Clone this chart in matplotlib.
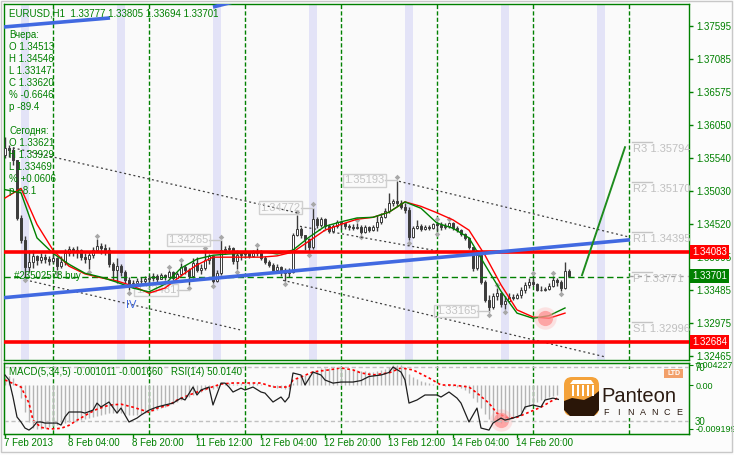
import matplotlib
matplotlib.use("Agg")
import matplotlib.pyplot as plt
import matplotlib.transforms as mtransforms
from matplotlib.patches import Rectangle, FancyBboxPatch, Polygon

plt.rcParams['font.family'] = ['Liberation Sans', 'DejaVu Sans']

W, H = 734, 455

# EURUSD H1, bars 7 Feb 2013 12:00 .. 15 Feb 2013 09:00 (index 0..141)
first_open = 1.3559
close = [
    1.3570, 1.3567, 1.3551, 1.3461, 1.3427, 1.3385, 1.3392, 1.3402, 1.3396, 1.3400,
    1.3397, 1.3394, 1.3399, 1.3386, 1.3392, 1.3406, 1.3413, 1.3408, 1.3411, 1.3400,
    1.3397, 1.3403, 1.3411, 1.3417, 1.3414, 1.3411, 1.3389, 1.3380, 1.3386, 1.3377,
    1.3365, 1.3355, 1.3360, 1.3363, 1.3363, 1.3366, 1.3368, 1.3371, 1.3366, 1.3372,
    1.3369, 1.3377, 1.3368, 1.3374, 1.3385, 1.3380, 1.3371, 1.3391, 1.3380, 1.3383,
    1.3396, 1.3402, 1.3363, 1.3375, 1.3411, 1.3413, 1.3414, 1.3394, 1.3403, 1.3405,
    1.3406, 1.3402, 1.3406, 1.3409, 1.3399, 1.3392, 1.3388, 1.3380, 1.3385, 1.3377,
    1.3375, 1.3377, 1.3434, 1.3444, 1.3434, 1.3428, 1.3416, 1.3459, 1.3450, 1.3459,
    1.3448, 1.3441, 1.3448, 1.3455, 1.3453, 1.3448, 1.3447, 1.3445, 1.3447, 1.3439,
    1.3447, 1.3442, 1.3447, 1.3455, 1.3462, 1.3472, 1.3484, 1.3487, 1.3484, 1.3478,
    1.3473, 1.3431, 1.3445, 1.3448, 1.3444, 1.3447, 1.3445, 1.3451, 1.3450, 1.3447,
    1.3448, 1.3453, 1.3445, 1.3442, 1.3436, 1.3430, 1.3416, 1.3383, 1.3403, 1.3361,
    1.3333, 1.3323, 1.3340, 1.3344, 1.3327, 1.3332, 1.3338, 1.3337, 1.3341, 1.3349,
    1.3357, 1.3362, 1.3358, 1.3349, 1.3349, 1.3351, 1.3355, 1.3365, 1.3361, 1.3352,
    1.3378, 1.3370]
high = [
    1.3587, 1.3574, 1.3571, 1.3551, 1.3466, 1.3433, 1.3411, 1.3411, 1.3403, 1.3406,
    1.3405, 1.3402, 1.3405, 1.3400, 1.3402, 1.3413, 1.3417, 1.3416, 1.3417, 1.3413,
    1.3406, 1.3409, 1.3416, 1.3428, 1.3422, 1.3420, 1.3416, 1.3392, 1.3399, 1.3389,
    1.3380, 1.3369, 1.3365, 1.3368, 1.3369, 1.3371, 1.3372, 1.3375, 1.3374, 1.3375,
    1.3374, 1.3380, 1.3378, 1.3377, 1.3391, 1.3388, 1.3383, 1.3399, 1.3400, 1.3389,
    1.3409, 1.3405, 1.3403, 1.3380, 1.3427, 1.3417, 1.3419, 1.3416, 1.3411, 1.3409,
    1.3411, 1.3408, 1.3411, 1.3414, 1.3411, 1.3402, 1.3396, 1.3391, 1.3389, 1.3386,
    1.3383, 1.3383, 1.3438, 1.3466, 1.3447, 1.3434, 1.3430, 1.3477, 1.3462, 1.3462,
    1.3461, 1.3451, 1.3451, 1.3458, 1.3458, 1.3453, 1.3451, 1.3451, 1.3453, 1.3450,
    1.3450, 1.3448, 1.3450, 1.3466, 1.3469, 1.3476, 1.3500, 1.3491, 1.3519, 1.3489,
    1.3484, 1.3478, 1.3448, 1.3458, 1.3451, 1.3450, 1.3450, 1.3453, 1.3455, 1.3454,
    1.3453, 1.3455, 1.3454, 1.3448, 1.3444, 1.3438, 1.3431, 1.3416, 1.3411, 1.3411,
    1.3365, 1.3341, 1.3344, 1.3352, 1.3346, 1.3340, 1.3344, 1.3343, 1.3344, 1.3354,
    1.3361, 1.3368, 1.3371, 1.3360, 1.3355, 1.3354, 1.3360, 1.3371, 1.3368, 1.3365,
    1.3393, 1.3381]
low = [
    1.3554, 1.3556, 1.3543, 1.3458, 1.3422, 1.3369, 1.3377, 1.3383, 1.3388, 1.3391,
    1.3391, 1.3388, 1.3391, 1.3380, 1.3383, 1.3388, 1.3402, 1.3402, 1.3399, 1.3396,
    1.3391, 1.3382, 1.3399, 1.3408, 1.3405, 1.3403, 1.3385, 1.3365, 1.3360, 1.3371,
    1.3360, 1.3349, 1.3352, 1.3355, 1.3357, 1.3358, 1.3360, 1.3363, 1.3361, 1.3366,
    1.3365, 1.3368, 1.3365, 1.3368, 1.3371, 1.3374, 1.3357, 1.3368, 1.3377, 1.3374,
    1.3380, 1.3389, 1.3360, 1.3361, 1.3372, 1.3405, 1.3406, 1.3389, 1.3382, 1.3396,
    1.3399, 1.3399, 1.3400, 1.3402, 1.3396, 1.3389, 1.3385, 1.3377, 1.3377, 1.3371,
    1.3363, 1.3369, 1.3375, 1.3433, 1.3430, 1.3411, 1.3408, 1.3413, 1.3445, 1.3447,
    1.3444, 1.3438, 1.3438, 1.3445, 1.3444, 1.3444, 1.3442, 1.3442, 1.3444, 1.3436,
    1.3438, 1.3439, 1.3441, 1.3441, 1.3451, 1.3461, 1.3469, 1.3479, 1.3479, 1.3475,
    1.3469, 1.3427, 1.3430, 1.3444, 1.3441, 1.3442, 1.3442, 1.3444, 1.3441, 1.3442,
    1.3444, 1.3445, 1.3442, 1.3439, 1.3433, 1.3427, 1.3413, 1.3378, 1.3380, 1.3358,
    1.3330, 1.3315, 1.3320, 1.3333, 1.3323, 1.3320, 1.3330, 1.3333, 1.3335, 1.3337,
    1.3344, 1.3352, 1.3355, 1.3347, 1.3347, 1.3347, 1.3349, 1.3354, 1.3355, 1.3347,
    1.3351, 1.3369]

# the two moving averages, read every 4 bars
ma_bars = list(range(0, 141, 4))
ma_red = [1.3492, 1.3507, 1.3451, 1.3411, 1.3386, 1.3374, 1.3368, 1.3363, 1.3355, 1.3344,
          1.3352, 1.3371, 1.3388, 1.3400, 1.3400, 1.3400, 1.3400, 1.3402, 1.3408, 1.3425,
          1.3442, 1.3451, 1.3459, 1.3462, 1.3470, 1.3486, 1.3479, 1.3469, 1.3458, 1.3442,
          1.3403, 1.3357, 1.3318, 1.3307, 1.3305, 1.3313]
ma_green = [1.3505, 1.3500, 1.3430, 1.3406, 1.3389, 1.3375, 1.3369, 1.3361, 1.3352, 1.3346,
            1.3358, 1.3383, 1.3397, 1.3403, 1.3405, 1.3406, 1.3409, 1.3405, 1.3411, 1.3431,
            1.3448, 1.3455, 1.3461, 1.3462, 1.3470, 1.3486, 1.3476, 1.3453, 1.3445, 1.3430,
            1.3388, 1.3347, 1.3313, 1.3305, 1.3309, 1.3321]

# MACD(5,34,5) main (histogram), one value per bar
macd_hist = [
    0.00168, 0.00189, 0.00147, 0.00021, -0.00273, -0.00567, -0.00777, -0.00903, -0.00920, -0.00915,
    -0.00903, -0.00882, -0.00861, -0.00840, -0.00819, -0.00798, -0.00777, -0.00756, -0.00735, -0.00735,
    -0.00714, -0.00693, -0.00672, -0.00651, -0.00630, -0.00609, -0.00588, -0.00588, -0.00588, -0.00588,
    -0.00609, -0.00630, -0.00630, -0.00630, -0.00609, -0.00588, -0.00567, -0.00546, -0.00525, -0.00483,
    -0.00462, -0.00420, -0.00399, -0.00357, -0.00315, -0.00273, -0.00252, -0.00210, -0.00168, -0.00147,
    -0.00105, -0.00063, -0.00084, -0.00063, 0.00000, 0.00021, 0.00042, 0.00021, 0.00021, 0.00042,
    0.00042, 0.00042, 0.00042, 0.00042, 0.00021, 0.00000, -0.00021, -0.00042, -0.00063, -0.00063,
    -0.00084, -0.00084, 0.00042, 0.00147, 0.00189, 0.00210, 0.00210, 0.00294, 0.00315, 0.00357,
    0.00357, 0.00357, 0.00357, 0.00357, 0.00357, 0.00336, 0.00336, 0.00315, 0.00315, 0.00294,
    0.00294, 0.00273, 0.00273, 0.00294, 0.00315, 0.00336, 0.00378, 0.00410, 0.004227, 0.00410,
    0.00378, 0.00231, 0.00168, 0.00126, 0.00084, 0.00063, 0.00042, 0.00021, 0.00000, 0.00000,
    -0.00021, -0.00021, -0.00021, -0.00042, -0.00063, -0.00105, -0.00168, -0.00273, -0.00357, -0.00483,
    -0.00609, -0.00714, -0.00756, -0.00777, -0.00798, -0.00777, -0.00735, -0.00693, -0.00630, -0.00567,
    -0.00504, -0.00441, -0.00399, -0.00357, -0.00315, -0.00294, -0.00252, -0.00231, -0.00210, -0.00189,
    -0.00126, -0.00101]
signal_bars = [0, 4, 6, 7, 9, 11, 12, 14, 16, 18, 21, 23, 26, 29, 32, 36, 38, 41, 43, 46,
               48, 51, 54, 57, 61, 64, 67, 71, 72, 74, 77, 81, 84, 87, 89, 92, 96, 99, 102, 106,
               109, 112, 116, 118, 121, 123, 126, 128, 131, 134, 137, 140, 141]
signal_vals = [0.00106, -0.00042, -0.00381, -0.00740, -0.00888, -0.00920, -0.00920, -0.00909, -0.00846, -0.00740,
               -0.00592, -0.00507, -0.00423, -0.00402, -0.00465, -0.00571, -0.00486, -0.00423, -0.00317, -0.00211,
               -0.00148, -0.00063, 0.00021, 0.00042, 0.00042, 0.00042, -0.00042, -0.00042, 0.00106, 0.00169,
               0.00275, 0.00317, 0.00359, 0.00317, 0.00254, 0.00211, 0.00254, 0.00359, 0.00317, 0.00148,
               0.0, 0.0, -0.00042, -0.00169, -0.00381, -0.00592, -0.00698, -0.00677, -0.00571, -0.00465,
               -0.00317, -0.00210, -0.00166]
# RSI(14)
rsi_bars = [0, 1, 2, 3, 4, 5, 6, 7, 8, 9, 10, 13, 14, 15, 16, 19, 20, 22, 23, 24,
            26, 28, 29, 31, 33, 34, 36, 38, 40, 42, 44, 45, 47, 48, 49, 51, 52, 54, 55, 56,
            57, 59, 60, 62, 64, 65, 67, 69, 70, 71, 72, 74, 75, 77, 79, 80, 82, 84, 87, 89,
            91, 94, 96, 97, 99, 100, 101, 103, 105, 108, 109, 111, 113, 114, 116, 118, 119, 121, 122, 124,
            125, 127, 129, 130, 132, 134, 135, 137, 139, 140, 141]
rsi_vals = [64.1, 60.4, 47.8, 33.0, 29.3, 24.8, 23.3, 25.6, 29.3, 29.3, 28.5, 28.5, 27.0, 33.0, 36.7, 36.7, 35.9, 38.1, 43.3, 40.4,
            44.1, 35.9, 39.6, 29.3, 32.2, 34.4, 38.1, 40.4, 41.9, 43.3, 47.0, 45.6, 55.2, 49.3, 53.0, 55.2, 41.9, 58.1, 58.1, 55.2,
            51.5, 54.4, 53.0, 55.2, 51.5, 50.7, 44.1, 47.8, 44.1, 47.8, 65.6, 64.1, 56.7, 66.3, 64.1, 60.4, 58.1, 58.9, 58.9, 60.0,
            63.0, 64.1, 66.0, 70.0, 66.3, 60.4, 43.3, 45.6, 49.3, 49.3, 47.8, 51.5, 47.0, 43.3, 29.3, 39.6, 24.8, 23.3, 28.5, 32.2,
            30.7, 32.2, 34.4, 40.4, 41.9, 40.4, 45.6, 47.0, 45.6, 47.8, 50.0]

price_ticks = [1.37595, 1.37085, 1.36575, 1.36050, 1.35540, 1.35030, 1.34520, 1.33995,
               1.33485, 1.32975, 1.32465]
red_levels = [1.34083, 1.32684]
last_price = 1.33701
order_price = 1.3369
pivot_names = ["R3", "R2", "R1", "P", "S1"]
pivot_prices = [1.35794, 1.35170, 1.34395, 1.33771, 1.32996]
swing_bars = [98, 77, 54, 121, 46]
swing_prices = [1.35193, 1.34772, 1.34265, 1.33165, 1.33490]
swing_text = ["1.35193", "1.34772", "1.34265", "1.33165", "1.33481"]
day_bars = [12, 36, 60, 84, 108, 132, 156]
session_bars = [4, 28, 52, 76, 100, 124, 148]
time_bars = [0, 16, 32, 48, 64, 80, 96, 112, 128]
time_labels = ["7 Feb 2013", "8 Feb 04:00", "8 Feb 20:00", "11 Feb 12:00", "12 Feb 04:00",
               "12 Feb 20:00", "13 Feb 12:00", "14 Feb 04:00", "14 Feb 20:00"]

# drawn objects: (bar, price) end points
blue_low = ([-0.25, 156.25], [1.3337, 1.3427])
blue_up_a = ([-0.25, 26.25], [1.3758, 1.3772])
blue_up_b = ([52.0, 59.0], [1.3789, 1.3800])
dash_lines = [([2, 73], [1.3570, 1.3469]),
              ([98.5, 156.25], [1.3518, 1.3431]),
              ([6.25, 58.75], [1.3363, 1.3287]),
              ([73.75, 108.75], [1.3448, 1.3409]),
              ([69.5, 150], [1.3364, 1.3245])]
arrow_line = ([144.25, 155], [1.3372, 1.3571])
mark_main = (135, 1.3305)
mark_ind = (124, -0.0073)

GREEN = '#008000'
BG = '#FAFAFA'
CANDLE = '#3C3C3C'

fig = plt.figure(figsize=(W / 100, H / 100), dpi=100, facecolor='#FCFCFC')


def rect(x0, y0, x1, y1):
    return [x0 / W, 1 - y1 / H, (x1 - x0) / W, (y1 - y0) / H]


ax = fig.add_axes(rect(4, 4, 689, 360), facecolor=BG)
ax2 = fig.add_axes(rect(4, 363, 689, 434), facecolor=BG)
for a in (ax, ax2):
    a.set_xlim(-0.25, 171)
    for s in a.spines.values():
        s.set_color(GREEN)
        s.set_linewidth(1)
ax.set_ylim(1.32401, 1.37937)
ax2.set_ylim(-0.01028, 0.00462)

# --- main chart ---
for b in session_bars:
    ax.axvspan(b, b + 2, color='#E3E3F7', lw=0, zorder=0)
for b in day_bars:
    for a in (ax, ax2):
        a.axvline(b, color=GREEN, lw=1, ls=(0, (3, 1.6)), zorder=1)

n = len(close)
opens = [first_open] + close[:-1]
idx = list(range(n))
ax.vlines(idx, low, high, color=CANDLE, lw=1, zorder=3)
for i in idx:
    o, c = opens[i], close[i]
    ax.bar(i, max(abs(c - o), 0.00005), bottom=min(o, c), width=0.72,
           facecolor='white' if c > o else CANDLE, edgecolor=CANDLE, lw=0.7, zorder=3.5)

# fractals
up_i = [i for i in range(2, n - 2) if high[i] > max(high[i - 2], high[i - 1], high[i + 1], high[i + 2])]
dn_i = [i for i in range(2, n - 2) if low[i] < min(low[i - 2], low[i - 1], low[i + 1], low[i + 2])]
ax.scatter(up_i, [high[i] + 0.0005 for i in up_i], marker='D', s=8, color='#A8A8A8', lw=0, zorder=4)
ax.scatter(dn_i, [low[i] - 0.0005 for i in dn_i], marker='D', s=8, color='#A8A8A8', lw=0, zorder=4)

ax.plot(ma_bars, ma_red, color='#FF0000', lw=1, zorder=5)
ax.plot(ma_bars, ma_green, color='#008000', lw=1, zorder=5)

for xs, ys in dash_lines:
    ax.plot(xs, ys, color='#404040', lw=0.9, ls=(0, (1.6, 2.2)), zorder=4)
for lvl in red_levels:
    ax.axhline(lvl, color='#FF0000', lw=2.6, zorder=6)
for xs, ys in (blue_low, blue_up_a, blue_up_b):
    ax.plot(xs, ys, color='#4169E1', lw=2.6, zorder=6, solid_capstyle='butt')
ax.plot([-0.25, 156], [order_price, order_price], color=GREEN, lw=1, ls=(0, (4.5, 2.5)), zorder=4)
ax.plot([156, 171], [last_price, last_price], color='#A0A0A0', lw=1, ls=(0, (3, 3)), zorder=4)
ax.plot(*arrow_line, color='#1E8C1E', lw=1.4, zorder=6)

# highlight blobs
for a, (bx, by) in ((ax, mark_main), (ax2, mark_ind)):
    a.scatter([bx], [by], s=260, color='#FF9A9A', alpha=0.25, lw=0, zorder=7)
    a.scatter([bx], [by], s=120, color='#FF8C8C', alpha=0.7, lw=0, zorder=7)

# pivot labels
for name, p in zip(pivot_names, pivot_prices):
    ax.plot([156.75, 161.75], [p, p], color='#C4C4C4', lw=1, zorder=4)
    ax.annotate(f"{name} {p:.5f}", xy=(156.9, p), xytext=(0, -1.5), textcoords='offset points',
                ha='left', va='top', fontsize=8, color='#C0C0C0', zorder=4)

# swing price labels
for b, p, t in zip(swing_bars, swing_prices, swing_text):
    ax.plot([b - 3, b], [p, p], color='#C8C8C8', lw=1, zorder=4)
    ax.text(b - 3.2, p, t, ha='right', va='center', fontsize=8, color='#C4C4C4', zorder=4,
            bbox=dict(boxstyle='square,pad=0.12', fc='none', ec='#D0D0D0', lw=1))

ax.text(2.2, order_price + 0.0002, "#23502578 buy", fontsize=7, color=GREEN, va='center', zorder=6)
ax.text(31.5, 1.3326, "IV", fontsize=8, color='#4169E1', ha='center', va='center', zorder=6)

# right price scale
ax.yaxis.tick_right()
ax.set_yticks(price_ticks)
ax.set_yticklabels([f"{p:.5f}" for p in price_ticks])
ax.tick_params(axis='y', colors=GREEN, length=3, width=1, labelsize=7, pad=2)
ax.set_xticks([])
bt = mtransforms.blended_transform_factory(ax.transAxes, ax.transData)
for lvl, fc in ((red_levels[0], '#FF0000'), (red_levels[1], '#FF0000'), (last_price, GREEN)):
    ax.text(1.0045, lvl, f"{lvl:.5f}", transform=bt, ha='left', va='center', fontsize=7,
            color='white', clip_on=False, zorder=10,
            bbox=dict(boxstyle='square,pad=0.2', fc=fc, ec='none'))

# --- indicator window ---
ax2.vlines(idx, 0, macd_hist, color='#B4B4B4', lw=1, zorder=2)
ax2.plot(signal_bars, signal_vals, color='#FF0000', lw=1.2, ls=(0, (1.6, 1.6)), zorder=3)
ax3 = ax2.twinx()
ax3.set_ylim(20.4, 73.0)
ax3.axhline(70, color='#C0C0C0', lw=1, ls=(0, (3, 2)), zorder=1)
ax3.axhline(30, color='#C0C0C0', lw=1, ls=(0, (3, 2)), zorder=1)
ax3.plot(rsi_bars, rsi_vals, color='#1E1E1E', lw=0.9, zorder=3)
ax3.set_yticks([70, 30])
ax3.set_yticklabels(["70", "30"])
ax3.tick_params(axis='y', colors=GREEN, length=0, labelsize=7, pad=4)
for s in ax3.spines.values():
    s.set_color(GREEN)
ax2.yaxis.tick_right()
ax2.set_yticks([0.004227, 0.0, -0.009199])
ax2.set_yticklabels(["0.004227", "0.00", "-0.009199"])
ax2.tick_params(axis='y', colors=GREEN, length=3, labelsize=6.5, pad=2)
ax2.set_xticks(time_bars)
ax2.set_xticklabels([])
ax2.tick_params(axis='x', colors=GREEN, length=3, width=1)
bt2 = mtransforms.blended_transform_factory(ax2.transData, ax2.transAxes)
for b, t in zip(time_bars, time_labels):
    ax2.text(b - 0.3, -0.13, t, transform=bt2, ha='left', va='center', fontsize=7,
             color=GREEN, clip_on=False)

# --- overlay: texts and logo (pixel layout) ---
ov = fig.add_axes([0, 0, 1, 1])
ov.set_xlim(0, W)
ov.set_ylim(H, 0)
ov.axis('off')
ov.add_patch(Rectangle((0.5, 0.5), 731, 451, fill=False, ec='#C8C8C8', lw=1))

ov.text(9, 13, "EURUSD,H1  1.33777 1.33805 1.33694 1.33701", fontsize=7, color=GREEN, va='center')
ov.text(9, 372, "MACD(5,34,5) -0.001011 -0.001660   RSI(14) 50.0140", fontsize=7, color=GREEN, va='center')
info = ["Вчера:", "O 1.34513", "H 1.34546", "L 1.33147", "C 1.33620", "% -0.6646", "p -89.4", "",
        "Сегодня:", "O 1.33621", "H 1.33929", "L 1.33469", "% +0.0606", "p +8.1"]
for k, t in enumerate(info):
    ov.text(9, 35 + 12 * k, t, fontsize=7, color=GREEN, va='center')

# logo
ov.add_patch(Rectangle((559, 369), 128, 49, fc=BG, ec='none'))
ov.add_patch(FancyBboxPatch((566, 379), 31, 35, boxstyle='round,pad=2,rounding_size=8',
                            fc='#F4A23A', ec='none'))
ov.add_patch(Polygon([(564, 401), (572, 398), (584, 400), (594, 395), (599, 391), (599, 410),
                      (594, 416), (570, 416), (564, 410)], closed=True, fc='#2A1608', ec='none'))
ov.add_patch(Polygon([(570, 384), (594, 384), (591, 380), (573, 380)], closed=True, fc='white', ec='none'))
for cx in (572, 577, 582, 587, 592):
    ov.add_patch(Rectangle((cx, 385), 2, 11, fc='white', ec='none'))
ov.text(601, 402, "Panteon", fontsize=14.5, color='#2B1B12', va='baseline', ha='left')
for k, ch in enumerate("FINANCE"):
    ov.text(606 + 12.2 * k, 412.5, ch, fontsize=6.5, color='#2B1B12', va='center', ha='center')
ov.add_patch(Rectangle((664, 369), 19, 9, fc='#F2A06A', ec='none'))
ov.text(673.5, 373.7, "LTD", fontsize=5, color='white', ha='center', va='center', fontweight='bold')

fig.savefig("out.png", dpi=100, facecolor=fig.get_facecolor())
